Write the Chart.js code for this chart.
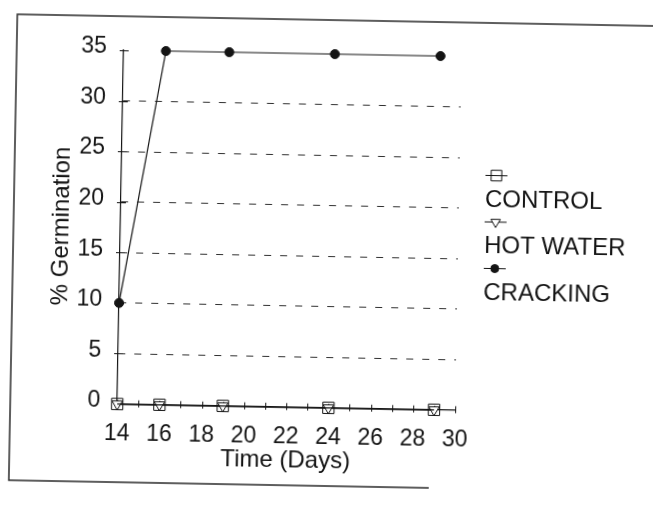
<!DOCTYPE html>
<html>
<head>
<meta charset="utf-8">
<title>% Germination over time</title>
<script src="https://cdn.jsdelivr.net/npm/chart.js@4/dist/chart.umd.min.js"></script>
<style>
  html, body { margin: 0; padding: 0; background: #fff; overflow: hidden; }
  #wrap {
    position: absolute; left: 0; top: 0; width: 653px; height: 509px;
    transform: rotate(1.05deg); transform-origin: 326.5px 254.5px;
  }
  canvas { display: block; }
</style>
</head>
<body>
<div id="wrap"><canvas id="chart" width="653" height="509"></canvas></div>
<script>
// Sampling days and germination percentages per treatment
const days = [14, 16, 19, 24, 29];
const control = [0, 0, 0, 0, 0];
const hotWater = [0, 0, 0, 0, 0];
const cracking = [10, 35, 35, 35, 35];

// Axis tick values
const xTickValues = [14, 16, 18, 20, 22, 24, 26, 28, 30];
const yTickValues = [0, 5, 10, 15, 20, 25, 30, 35];

const seriesNames = ['CONTROL', 'HOT WATER', 'CRACKING'];

const INK = '#141414';
const FONT = '"Liberation Sans", Arial, sans-serif';

function points(values) {
  return days.map((d, i) => ({ x: d, y: values[i] }));
}

// Draws a marker in the same way the library draws point styles
function marker(ctx, style, rotation, radius, x, y) {
  const h = window.Chart && Chart.helpers && Chart.helpers.drawPoint;
  if (h) {
    h(ctx, { pointStyle: style, rotation: rotation, radius: radius, borderWidth: ctx.lineWidth }, x, y);
    return;
  }
  ctx.beginPath();
  if (style === 'circle') {
    ctx.arc(x, y, radius, 0, Math.PI * 2);
  } else if (style === 'rect') {
    const s = radius * Math.SQRT1_2;
    ctx.rect(x - s, y - s, 2 * s, 2 * s);
  } else {
    const r = radius, a = rotation * Math.PI / 180;
    for (let k = 0; k < 3; k++) {
      const t = a + k * 2 * Math.PI / 3;
      const px = x + Math.sin(t) * r, py = y - Math.cos(t) * r;
      k ? ctx.lineTo(px, py) : ctx.moveTo(px, py);
    }
    ctx.closePath();
  }
  ctx.fill();
  ctx.stroke();
}

// Page frame around the figure
const framePlugin = {
  id: 'frame',
  beforeDraw(chart) {
    const ctx = chart.ctx;
    ctx.save();
    ctx.strokeStyle = '#2a2a2a';
    ctx.lineWidth = 1.5;
    ctx.beginPath();
    ctx.moveTo(700, 20); ctx.lineTo(13, 20); ctx.lineTo(13, 486); ctx.lineTo(433, 486);
    ctx.stroke();
    ctx.restore();
  }
};

// Small crossing tick marks on both axes
const tickMarksPlugin = {
  id: 'tickMarks',
  beforeDatasetsDraw(chart) {
    const ctx = chart.ctx, xs = chart.scales.x, ys = chart.scales.y;
    const a = chart.chartArea;
    ctx.save();
    ctx.strokeStyle = INK;
    ctx.lineWidth = 1;
    ctx.beginPath();
    for (let d = xs.min; d <= xs.max; d += 1) {
      const px = Math.round(xs.getPixelForValue(d)) + 0.5;
      ctx.moveTo(px, a.bottom - 4); ctx.lineTo(px, a.bottom + 3);
    }
    yTickValues.forEach(v => {
      if (v === 0) return;
      const py = Math.round(ys.getPixelForValue(v)) + 0.5;
      ctx.moveTo(a.left - 4, py); ctx.lineTo(a.left + 5, py);
    });
    ctx.stroke();
    ctx.restore();
  }
};

// Legend on the right: marker above each series name
const sideLegendPlugin = {
  id: 'sideLegend',
  afterDraw(chart) {
    const ctx = chart.ctx;
    const x0 = 484;
    chart.data.datasets.forEach((ds, i) => {
      const y = 172 + i * 46.5;
      ctx.save();
      ctx.strokeStyle = INK;
      ctx.lineWidth = 1;
      ctx.beginPath();
      ctx.moveTo(x0, y + 0.5); ctx.lineTo(x0 + 22, y + 0.5);
      ctx.stroke();
      ctx.fillStyle = ds.pointBackgroundColor;
      ctx.strokeStyle = INK;
      ctx.lineWidth = 1;
      marker(ctx, ds.pointStyle, ds.pointRotation || 0, ds.legendRadius, x0 + 11, y + 0.5);
      ctx.fillStyle = INK;
      ctx.font = '24px ' + FONT;
      ctx.textBaseline = 'alphabetic';
      ctx.textAlign = 'left';
      ctx.fillText(ds.label, x0, y + 31.5);
      ctx.restore();
    });
  }
};

const base = {
  borderColor: INK,
  borderWidth: 1.2,
  tension: 0,
  clip: false,
  pointBorderColor: INK,
  pointBorderWidth: 1,
  pointHoverRadius: 0
};

new Chart(document.getElementById('chart'), {
  type: 'line',
  data: {
    datasets: [
      Object.assign({}, base, {
        label: seriesNames[0], data: points(control),
        pointStyle: 'rect', pointRadius: 8, legendRadius: 7.5,
        pointBackgroundColor: 'rgba(0,0,0,0)'
      }),
      Object.assign({}, base, {
        label: seriesNames[1], data: points(hotWater),
        pointStyle: 'triangle', pointRotation: 180, pointRadius: 6, legendRadius: 5.5,
        pointBackgroundColor: '#ffffff'
      }),
      Object.assign({}, base, {
        label: seriesNames[2], data: points(cracking),
        pointStyle: 'circle', pointRadius: 4.5, legendRadius: 4,
        pointBackgroundColor: INK
      })
    ]
  },
  options: {
    responsive: false,
    animation: false,
    events: [],
    layout: { padding: { left: 0, right: 195, top: 54, bottom: 0 } },
    plugins: { legend: { display: false }, tooltip: { enabled: false } },
    scales: {
      x: {
        type: 'linear',
        min: 14, max: 30,
        afterBuildTicks: s => { s.ticks = xTickValues.map(v => ({ value: v })); },
        afterFit: s => { s.height = 101.2; },
        grid: { display: false, drawTicks: false },
        border: { display: true, color: INK, width: 1.2 },
        ticks: { color: INK, font: { family: FONT, size: 23 }, padding: 16, maxRotation: 0, autoSkip: false },
        title: { display: true, text: 'Time (Days)', color: INK, font: { family: FONT, size: 24 }, padding: { top: 0, bottom: 33.5 } }
      },
      y: {
        type: 'linear',
        min: 0, max: 35,
        afterBuildTicks: s => { s.ticks = yTickValues.map(v => ({ value: v })); },
        afterFit: s => { s.width = 120; },
        grid: {
          drawTicks: false,
          lineWidth: 1,
          color: c => (c.tick && c.tick.value > 0 && c.tick.value < 35) ? '#303030' : 'rgba(0,0,0,0)'
        },
        border: { display: true, color: INK, width: 1.2, dash: [7, 9] },
        ticks: { color: INK, font: { family: FONT, size: 23 }, padding: 17, labelOffset: -3 },
        title: { display: true, text: '% Germination', color: INK, font: { family: FONT, size: 24 }, padding: { top: 47, bottom: 0 } }
      }
    }
  },
  plugins: [framePlugin, tickMarksPlugin, sideLegendPlugin]
});
</script>
</body>
</html>
